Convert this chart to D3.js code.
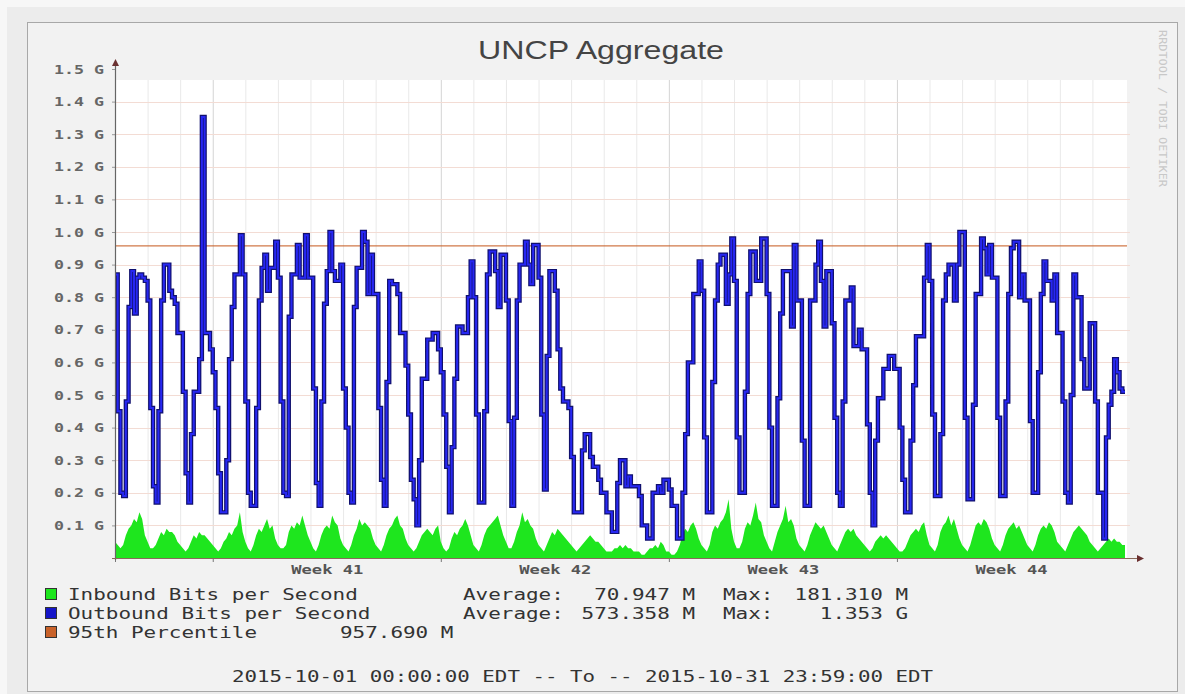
<!DOCTYPE html>
<html>
<head>
<meta charset="utf-8">
<script src="https://cdn.jsdelivr.net/npm/d3@7"></script>
<style>
  html, body { margin: 0; padding: 0; background: #f7f7f7; }
  svg { display: block; }
  .mono { font-family: "DejaVu Sans Mono", monospace; }
</style>
</head>
<body>
<svg id="chart" width="1185" height="694"></svg>
<script>
// ---- data ----
const title = "UNCP Aggregate";
const yTickValues = [0.1, 0.2, 0.3, 0.4, 0.5, 0.6, 0.7, 0.8, 0.9, 1.0, 1.1, 1.2, 1.3, 1.4, 1.5];
const yTickLabels = ["0.1 G", "0.2 G", "0.3 G", "0.4 G", "0.5 G", "0.6 G", "0.7 G", "0.8 G",
                     "0.9 G", "1.0 G", "1.1 G", "1.2 G", "1.3 G", "1.4 G", "1.5 G"];
const weekLabels = ["Week 41", "Week 42", "Week 43", "Week 44"];
const weekLabelDays = [6.5, 13.5, 20.5, 27.5];   // days after 2015-10-01 00:00
const weekLineDays = [3, 10, 17, 24];
const percentile95 = 0.95769;                    // G

// Outbound bits per second, G, one value every 2 hours (12 per day)
const outbound = [
  0.87,0.45,0.20,0.19,0.48,0.77,0.88,0.75,0.86,0.87,0.86,0.85,
  0.79,0.46,0.22,0.17,0.45,0.79,0.90,0.90,0.82,0.80,0.78,0.69,
  0.69,0.51,0.26,0.17,0.38,0.51,0.51,0.61,1.353,0.69,0.69,0.64,
  0.57,0.46,0.26,0.14,0.14,0.30,0.61,0.77,0.87,0.87,0.99,0.87,
  0.48,0.20,0.16,0.16,0.46,0.79,0.89,0.93,0.82,0.89,0.89,0.97,
  0.86,0.48,0.20,0.19,0.74,0.87,0.87,0.96,0.86,0.86,0.99,0.86,
  0.86,0.52,0.23,0.16,0.48,0.78,0.88,1.00,0.88,0.85,0.85,0.90,
  0.52,0.40,0.20,0.17,0.77,0.89,0.89,1.00,0.97,0.81,0.93,0.81,
  0.81,0.46,0.24,0.16,0.54,0.85,0.84,0.84,0.81,0.69,0.69,0.59,
  0.44,0.24,0.18,0.10,0.30,0.55,0.55,0.67,0.67,0.69,0.69,0.64,
  0.57,0.44,0.28,0.14,0.34,0.55,0.71,0.71,0.69,0.69,0.80,0.91,
  0.80,0.44,0.17,0.17,0.45,0.87,0.94,0.94,0.88,0.77,0.93,0.93,
  0.79,0.42,0.16,0.43,0.79,0.90,0.90,0.97,0.90,0.84,0.96,0.96,
  0.86,0.44,0.21,0.62,0.88,0.88,0.82,0.64,0.52,0.48,0.48,0.46,
  0.31,0.14,0.14,0.14,0.33,0.38,0.38,0.31,0.28,0.28,0.24,0.20,
  0.20,0.14,0.14,0.08,0.08,0.23,0.30,0.30,0.22,0.25,0.22,0.22,
  0.22,0.19,0.10,0.10,0.06,0.06,0.20,0.20,0.22,0.20,0.24,0.24,
  0.21,0.16,0.16,0.06,0.06,0.20,0.38,0.60,0.60,0.81,0.81,0.91,
  0.82,0.37,0.14,0.14,0.54,0.79,0.90,0.93,0.93,0.78,0.87,0.98,
  0.85,0.37,0.20,0.20,0.51,0.81,0.94,0.94,0.85,0.85,0.98,0.98,
  0.81,0.40,0.16,0.16,0.49,0.75,0.88,0.88,0.88,0.71,0.96,0.79,
  0.79,0.36,0.16,0.16,0.79,0.79,0.90,0.97,0.85,0.71,0.88,0.88,
  0.72,0.43,0.20,0.16,0.48,0.79,0.79,0.83,0.65,0.65,0.70,0.64,
  0.64,0.41,0.20,0.10,0.36,0.49,0.49,0.58,0.58,0.62,0.62,0.58,
  0.58,0.40,0.24,0.14,0.14,0.36,0.53,0.68,0.68,0.68,0.86,0.96,
  0.85,0.44,0.19,0.19,0.38,0.79,0.87,0.90,0.90,0.79,0.90,1.00,
  1.00,0.43,0.18,0.18,0.47,0.81,0.81,0.98,0.95,0.87,0.96,0.86,
  0.86,0.43,0.19,0.19,0.48,0.81,0.95,0.97,0.97,0.80,0.87,0.79,
  0.79,0.42,0.20,0.20,0.57,0.81,0.91,0.85,0.85,0.79,0.87,0.69,
  0.69,0.48,0.20,0.17,0.50,0.87,0.80,0.80,0.61,0.52,0.52,0.72,
  0.72,0.48,0.20,0.20,0.06,0.37,0.47,0.51,0.61,0.57,0.52,0.51
];

// Inbound bits per second, G, one value every 2 hours (12 per day)
const inbound = [
  0.05,0.04,0.03,0.04,0.07,0.09,0.10,0.12,0.11,0.14,0.12,0.07,
  0.05,0.03,0.03,0.04,0.06,0.08,0.07,0.09,0.08,0.08,0.07,0.05,
  0.04,0.03,0.02,0.03,0.05,0.07,0.06,0.08,0.07,0.07,0.06,0.05,
  0.04,0.03,0.02,0.03,0.05,0.06,0.08,0.07,0.09,0.10,0.14,0.08,
  0.05,0.03,0.02,0.04,0.07,0.09,0.08,0.10,0.12,0.09,0.10,0.06,
  0.04,0.03,0.03,0.04,0.08,0.10,0.09,0.11,0.10,0.13,0.10,0.07,
  0.05,0.03,0.02,0.04,0.07,0.09,0.10,0.09,0.13,0.11,0.10,0.06,
  0.04,0.03,0.02,0.04,0.07,0.09,0.12,0.10,0.11,0.10,0.09,0.06,
  0.04,0.03,0.02,0.04,0.07,0.09,0.10,0.12,0.13,0.10,0.09,0.06,
  0.04,0.03,0.02,0.03,0.05,0.07,0.08,0.09,0.08,0.07,0.09,0.10,
  0.05,0.03,0.02,0.03,0.06,0.08,0.07,0.09,0.10,0.12,0.10,0.07,
  0.04,0.03,0.02,0.04,0.07,0.09,0.10,0.11,0.12,0.13,0.10,0.07,
  0.05,0.03,0.03,0.05,0.08,0.10,0.14,0.11,0.12,0.10,0.09,0.06,
  0.04,0.03,0.02,0.04,0.06,0.08,0.07,0.09,0.08,0.07,0.06,0.05,
  0.04,0.03,0.02,0.03,0.04,0.05,0.06,0.07,0.06,0.05,0.05,0.04,
  0.03,0.02,0.02,0.02,0.03,0.03,0.04,0.03,0.04,0.03,0.03,0.02,
  0.02,0.02,0.01,0.01,0.02,0.03,0.03,0.04,0.03,0.05,0.04,0.02,
  0.02,0.01,0.01,0.02,0.04,0.07,0.09,0.08,0.10,0.11,0.09,0.06,
  0.04,0.03,0.02,0.04,0.08,0.10,0.09,0.11,0.12,0.14,0.18,0.09,
  0.05,0.03,0.03,0.05,0.09,0.11,0.10,0.13,0.17,0.12,0.11,0.07,
  0.05,0.03,0.02,0.05,0.08,0.10,0.12,0.16,0.11,0.12,0.10,0.06,
  0.04,0.03,0.02,0.04,0.07,0.09,0.11,0.10,0.09,0.10,0.08,0.06,
  0.04,0.03,0.02,0.04,0.06,0.08,0.09,0.08,0.09,0.07,0.06,0.05,
  0.04,0.03,0.02,0.03,0.05,0.06,0.07,0.06,0.07,0.06,0.05,0.04,
  0.03,0.02,0.02,0.03,0.05,0.07,0.08,0.09,0.08,0.10,0.11,0.07,
  0.04,0.03,0.02,0.04,0.08,0.10,0.11,0.13,0.10,0.12,0.09,0.06,
  0.04,0.03,0.02,0.04,0.07,0.10,0.11,0.10,0.12,0.11,0.09,0.06,
  0.04,0.03,0.02,0.04,0.07,0.09,0.10,0.11,0.09,0.10,0.08,0.06,
  0.04,0.03,0.02,0.04,0.07,0.09,0.10,0.09,0.11,0.10,0.08,0.05,
  0.04,0.03,0.02,0.04,0.06,0.08,0.09,0.10,0.09,0.08,0.07,0.05,
  0.04,0.03,0.02,0.03,0.04,0.05,0.06,0.05,0.06,0.05,0.05,0.04
];

const legendLabels = ["Inbound Bits per Second", "Outbound Bits per Second", "95th Percentile"];
const legendAverages = ["70.947 M", "573.358 M"];
const legendMaxima = ["181.310 M", "1.353 G"];
const percentileText = "957.690 M";
const footerText = "2015-10-01 00:00:00 EDT -- To -- 2015-10-31 23:59:00 EDT";
const watermark = "RRDTOOL / TOBI OETIKER";

// ---- drawing ----
const width = 1185, height = 694;
const stepHours = 2, totalHours = 744;
const plotLeft = 115, plotRight = 1127, plotTop = 80, plotBottom = 558;
const charW = 12.6;   // stretched monospace advance in the legend

const colInbound = "#1ee61e", colOutbound = "#2727f2", colOutEdge = "#10106e", colPct = "#c9622a";

const svg = d3.select("#chart");

const x = d3.scaleLinear().domain([0, totalHours]).range([115, 1125]);
const y = d3.scaleLinear().domain([0, 1.5]).range([plotBottom, 69]);

function fit(sel, len) {
  return sel.attr("textLength", len).attr("lengthAdjust", "spacingAndGlyphs");
}

// backgrounds
svg.append("rect").attr("x", 7).attr("y", 7).attr("width", width - 7).attr("height", height - 7)
  .attr("fill", "#ececec");
svg.append("rect").attr("x", 27.5).attr("y", 22.5).attr("width", 1150).attr("height", 669)
  .attr("fill", "#f2f2f2").attr("stroke", "#a8a8a8");
svg.append("rect").attr("x", plotLeft).attr("y", plotTop)
  .attr("width", plotRight - plotLeft).attr("height", plotBottom - plotTop).attr("fill", "#fff");

// grid: one vertical line per day, darker at week boundaries
const grid = svg.append("g");
grid.selectAll(".vday").data(d3.range(1, 31)).enter().append("line")
  .attr("x1", d => x(d * 24) + 0.5).attr("x2", d => x(d * 24) + 0.5)
  .attr("y1", plotTop).attr("y2", plotBottom)
  .attr("stroke", d => weekLineDays.includes(d) ? "#d4d4d4" : "#e9e9e9");
grid.selectAll(".hgrid").data(yTickValues.filter(v => y(v) > plotTop)).enter().append("line")
  .attr("x1", plotLeft).attr("x2", plotRight + 3)
  .attr("y1", d => Math.round(y(d)) + 0.5).attr("y2", d => Math.round(y(d)) + 0.5)
  .attr("stroke", "#f3dcd4");

// inbound area
const inPts = inbound.map((v, i) => [i * stepHours, v]);
inPts.push([totalHours, inbound[inbound.length - 1]]);
svg.append("path")
  .datum(inPts)
  .attr("fill", colInbound)
  .attr("d", d3.area().x(d => x(d[0])).y0(y(0)).y1(d => y(d[1])));

// 95th percentile rule
svg.append("line")
  .attr("x1", plotLeft).attr("x2", plotRight)
  .attr("y1", y(percentile95)).attr("y2", y(percentile95))
  .attr("stroke", colPct).attr("stroke-width", 1.2).attr("opacity", 0.85);

// outbound line: dark edge under a blue core
const outPts = outbound.map((v, i) => [i * stepHours, v]);
outPts.push([totalHours, outbound[outbound.length - 1]]);
const outLine = d3.line().x(d => x(d[0])).y(d => y(d[1])).curve(d3.curveStepAfter);
svg.append("path").datum(outPts)
  .attr("fill", "none").attr("stroke", colOutEdge).attr("stroke-width", 4.4)
  .attr("stroke-linejoin", "miter").attr("d", outLine);
svg.append("path").datum(outPts)
  .attr("fill", "none").attr("stroke", colOutbound).attr("stroke-width", 2)
  .attr("stroke-linejoin", "miter").attr("d", outLine);

// y axis
const yAxis = svg.append("g")
  .attr("transform", `translate(${plotLeft},0)`)
  .call(d3.axisLeft(y).tickValues(yTickValues)
    .tickFormat((d, i) => yTickLabels[i]).tickSize(3).tickPadding(8));
yAxis.select(".domain").remove();
yAxis.selectAll("line").attr("stroke", "#999");
yAxis.selectAll("text")
  .attr("class", "mono").attr("font-size", 13).attr("fill", "#666")
  .attr("font-weight", "bold")
  .call(fit, 50);

// x axis labels (weeks)
const xAxis = svg.append("g")
  .attr("transform", `translate(0,${plotBottom})`)
  .call(d3.axisBottom(x).tickValues(weekLabelDays.map(d => d * 24))
    .tickFormat((d, i) => weekLabels[i]).tickSize(0));
xAxis.select(".domain").remove();
xAxis.selectAll("text")
  .attr("y", 16).attr("dy", null)
  .attr("class", "mono").attr("font-size", 13).attr("fill", "#555")
  .attr("font-weight", "bold")
  .call(fit, 72);

// week tick marks below the axis
svg.selectAll(".wtick").data([0].concat(weekLineDays)).enter().append("line")
  .attr("x1", d => x(d * 24) + 0.5).attr("x2", d => x(d * 24) + 0.5)
  .attr("y1", plotBottom).attr("y2", plotBottom + 4)
  .attr("stroke", "#777");

// axis lines with arrow heads
svg.append("line").attr("x1", plotLeft + 0.5).attr("x2", plotLeft + 0.5)
  .attr("y1", plotBottom + 2).attr("y2", 65).attr("stroke", "#666").attr("stroke-width", 1.2);
svg.append("line").attr("x1", plotLeft - 3).attr("x2", 1138)
  .attr("y1", plotBottom + 0.5).attr("y2", plotBottom + 0.5).attr("stroke", "#8a6a5a").attr("stroke-width", 1.2);
svg.append("path").attr("d", "M112,66 L115.5,59 L119,66 Z").attr("fill", "#6a3030");
svg.append("path").attr("d", "M1137,555 L1144,558.5 L1137,562 Z").attr("fill", "#6a3030");

// title
svg.append("text")
  .attr("x", 601).attr("y", 59)
  .attr("text-anchor", "middle")
  .attr("font-family", "'Liberation Sans', Arial, sans-serif")
  .attr("font-size", 25).attr("fill", "#444")
  .text(title)
  .call(fit, 246);

// watermark on the right edge
svg.append("text")
  .attr("transform", "translate(1159,30) rotate(90)")
  .attr("class", "mono").attr("font-size", 10).attr("fill", "#c8c8c8")
  .text(watermark)
  .call(fit, 157);

// legend
const legendColors = [colInbound, "#1616c8", colPct];
const rowY = [600, 619, 638];
const legend = svg.append("g").attr("class", "mono").attr("font-size", 15).attr("fill", "#333");

legend.selectAll(".sw").data(legendLabels).enter().append("rect")
  .attr("x", 45.5).attr("y", (d, i) => rowY[i] - 11.5)
  .attr("width", 11).attr("height", 11)
  .attr("fill", (d, i) => legendColors[i]).attr("stroke", "#333");

legend.selectAll(".lab").data(legendLabels).enter().append("text")
  .attr("x", 68).attr("y", (d, i) => rowY[i])
  .text(d => d)
  .each(function(d) { fit(d3.select(this), d.length * charW); });

legendAverages.forEach((v, i) => {
  legend.append("text").attr("x", 463).attr("y", rowY[i]).text("Average:").call(fit, 8 * charW);
  legend.append("text").attr("x", 695).attr("y", rowY[i]).attr("text-anchor", "end")
    .text(v).call(fit, v.length * charW);
  legend.append("text").attr("x", 723).attr("y", rowY[i]).text("Max:").call(fit, 4 * charW);
  legend.append("text").attr("x", 908).attr("y", rowY[i]).attr("text-anchor", "end")
    .text(legendMaxima[i]).call(fit, legendMaxima[i].length * charW);
});

legend.append("text").attr("x", 340).attr("y", rowY[2])
  .text(percentileText).call(fit, percentileText.length * charW);

// footer
legend.append("text")
  .attr("x", 582.5).attr("y", 682).attr("text-anchor", "middle")
  .text(footerText)
  .call(fit, 701);
</script>
</body>
</html>
